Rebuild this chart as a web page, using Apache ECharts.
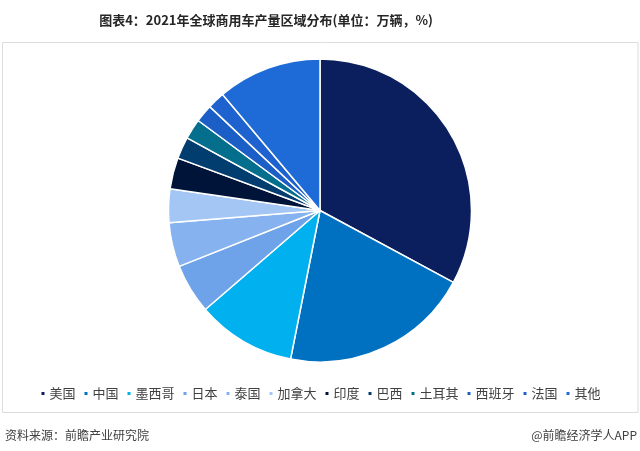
<!DOCTYPE html>
<html><head><meta charset="utf-8">
<script src="https://cdn.jsdelivr.net/npm/echarts@6/dist/echarts.min.js"></script>
<style>html,body{margin:0;padding:0;background:#fff}#c{width:640px;height:451px}</style>
</head><body><div id="c"></div>
<script>
const categories = ['美国','中国','墨西哥','日本','泰国','加拿大','印度','巴西','土耳其','西班牙','法国','其他'];
const values = [760, 468, 244, 123, 109, 83, 77, 54, 50, 44, 43, 257];
const colors = ['#0b1f5e','#0071c1','#00b0ef','#6ea3e9','#86b3ef','#a3c6f4','#00143a','#023d70','#036f8d','#1b5ec6','#1d62cf','#1e6bd7'];
const titleText = '图表4：2021年全球商用车产量区域分布(单位：万辆，%)';
const sourceText = '资料来源：前瞻产业研究院';
const brandText = '@前瞻经济学人APP';

const chart = echarts.init(document.getElementById('c'), null, {renderer:'canvas'});
chart.setOption({
  animation: false,
  backgroundColor: '#fff',
  color: colors,
  title: {
    text: titleText, left: 261, top: 9, textAlign: 'center',
    textStyle: {fontSize: 13, fontWeight: 'bold', color: '#262626', fontFamily: '"Liberation Sans Narrow","Noto Sans CJK SC",sans-serif'}
  },
  legend: {
    data: categories, left: 'center', top: 382,
    itemWidth: 5, itemHeight: 5, itemGap: 7, icon: 'rect',
    textStyle: {fontSize: 13, color: '#404040', fontFamily: '"Noto Sans CJK SC",sans-serif', padding: [0,0,0,-1]}
  },
  graphic: [
    {type: 'rect', shape: {x: 2.5, y: 42.5, width: 635.5, height: 370}, style: {fill: 'none', stroke: '#dcdcdc', lineWidth: 1}, z: -1},
    {type: 'text', left: 5, top: 429, style: {text: sourceText, fontSize: 12, fill: '#404040', fontFamily: '"Noto Sans CJK SC",sans-serif'}},
    {type: 'text', right: 3, top: 429, style: {text: brandText, fontSize: 12, fill: '#404040', fontFamily: '"Noto Sans CJK SC",sans-serif'}}
  ],
  series: [{
    type: 'pie',
    center: [320, 210.5], radius: [0, 151.5],
    startAngle: 90, clockwise: true,
    label: {show: false}, labelLine: {show: false},
    itemStyle: {borderColor: '#fff', borderWidth: 1.5},
    emphasis: {disabled: true},
    data: categories.map((n, i) => ({name: n, value: values[i]}))
  }]
});
</script></body></html>
